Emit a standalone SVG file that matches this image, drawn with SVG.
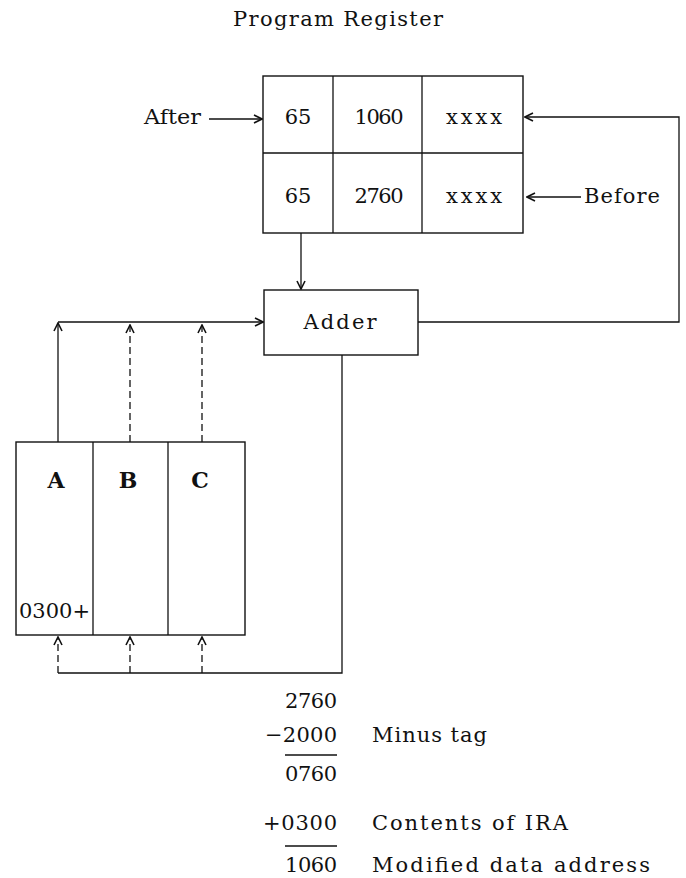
<svg xmlns="http://www.w3.org/2000/svg" width="686" height="878" viewBox="0 0 686 878">
<style>
  text { font-family: "DejaVu Serif", "Liberation Serif", serif; fill: #111; font-size: 21px; }
  .lbl { font-size: 22px; font-weight: bold; text-anchor: middle; }
  .c { text-anchor: middle; }
  .e { text-anchor: end; }
  .box { fill: #fff; stroke: #111; stroke-width: 1.4; }
  .ln { fill: none; stroke: #111; stroke-width: 1.3; }
  .dash { stroke-dasharray: 7 4; }
</style>
<defs>
  <marker id="arr" viewBox="0 0 10 10" refX="9" refY="5" markerWidth="10" markerHeight="10" markerUnits="userSpaceOnUse" orient="auto">
    <path d="M1,1 L9,5 L1,9" fill="none" stroke="#111" stroke-width="1.6"/>
  </marker>
</defs>

<text id="title" class="c" x="338" y="26" font-size="18" textLength="210" lengthAdjust="spacing">Program Register</text>

<g id="program-register">
  <rect class="box" x="263" y="76" width="260" height="157"/>
  <line class="ln" x1="263" y1="153" x2="523" y2="153"/>
  <line class="ln" x1="333" y1="76" x2="333" y2="233"/>
  <line class="ln" x1="422" y1="76" x2="422" y2="233"/>
  <text class="c" x="298" y="124">65</text>
  <text class="c" x="379" y="124" textLength="49" lengthAdjust="spacing">1060</text>
  <text class="c" x="474" y="124" textLength="56" lengthAdjust="spacing">xxxx</text>
  <text class="c" x="298" y="203">65</text>
  <text class="c" x="379" y="203" textLength="49" lengthAdjust="spacing">2760</text>
  <text class="c" x="474" y="203" textLength="56" lengthAdjust="spacing">xxxx</text>
</g>

<text id="after" x="144" y="124" font-size="22" textLength="57" lengthAdjust="spacingAndGlyphs">After</text>
<text id="before" x="584" y="203" font-size="22" textLength="76" lengthAdjust="spacing">Before</text>

<g id="adder">
  <rect class="box" x="264" y="290" width="154" height="65"/>
  <text class="c" x="340" y="329" font-size="22" textLength="73" lengthAdjust="spacing">Adder</text>
</g>

<g id="index-registers">
  <rect class="box" x="16" y="442" width="229" height="193"/>
  <line class="ln" x1="93" y1="442" x2="93" y2="635"/>
  <line class="ln" x1="168" y1="442" x2="168" y2="635"/>
  <text class="lbl" x="56" y="488">A</text>
  <text class="lbl" x="128" y="488">B</text>
  <text class="lbl" x="200" y="488">C</text>
  <text x="19" y="618" font-size="20" textLength="71" lengthAdjust="spacingAndGlyphs">0300+</text>
</g>

<g id="connectors">
  <line class="ln" x1="209" y1="119" x2="262" y2="119" marker-end="url(#arr)"/>
  <line class="ln" x1="581" y1="197" x2="527" y2="197" marker-end="url(#arr)"/>
  <polyline class="ln" points="418,322 679,322 679,117 525,117" marker-end="url(#arr)"/>
  <line class="ln" x1="301" y1="233" x2="301" y2="289" marker-end="url(#arr)"/>
  <line class="ln" x1="58" y1="322" x2="263" y2="322" marker-end="url(#arr)"/>
  <line class="ln" x1="58" y1="442" x2="58" y2="323" marker-end="url(#arr)"/>
  <line class="ln dash" x1="130" y1="442" x2="130" y2="325" marker-end="url(#arr)"/>
  <line class="ln dash" x1="202" y1="442" x2="202" y2="325" marker-end="url(#arr)"/>
  <polyline class="ln" points="342,355 342,673 58,673"/>
  <line class="ln dash" x1="58" y1="673" x2="58" y2="637" marker-end="url(#arr)"/>
  <line class="ln dash" x1="130" y1="673" x2="130" y2="637" marker-end="url(#arr)"/>
  <line class="ln dash" x1="202" y1="673" x2="202" y2="637" marker-end="url(#arr)"/>
</g>

<g id="calculation">
  <text class="e" x="337" y="708" font-size="20" textLength="52" lengthAdjust="spacing">2760</text>
  <text class="e" x="337" y="742" font-size="20" textLength="72" lengthAdjust="spacing">−2000</text>
  <line class="ln" x1="285" y1="755" x2="337" y2="755"/>
  <text class="e" x="337" y="781" font-size="20" textLength="52" lengthAdjust="spacing">0760</text>
  <text class="e" x="337" y="830" font-size="20" textLength="74" lengthAdjust="spacing">+0300</text>
  <line class="ln" x1="285" y1="846" x2="337" y2="846"/>
  <text class="e" x="337" y="872" font-size="20" textLength="52" lengthAdjust="spacing">1060</text>
  <text x="372" y="742" textLength="115" lengthAdjust="spacing">Minus tag</text>
  <text x="372" y="830" textLength="196" lengthAdjust="spacing">Contents of IRA</text>
  <text x="372" y="872" textLength="278" lengthAdjust="spacing">Modified data address</text>
</g>
</svg>
